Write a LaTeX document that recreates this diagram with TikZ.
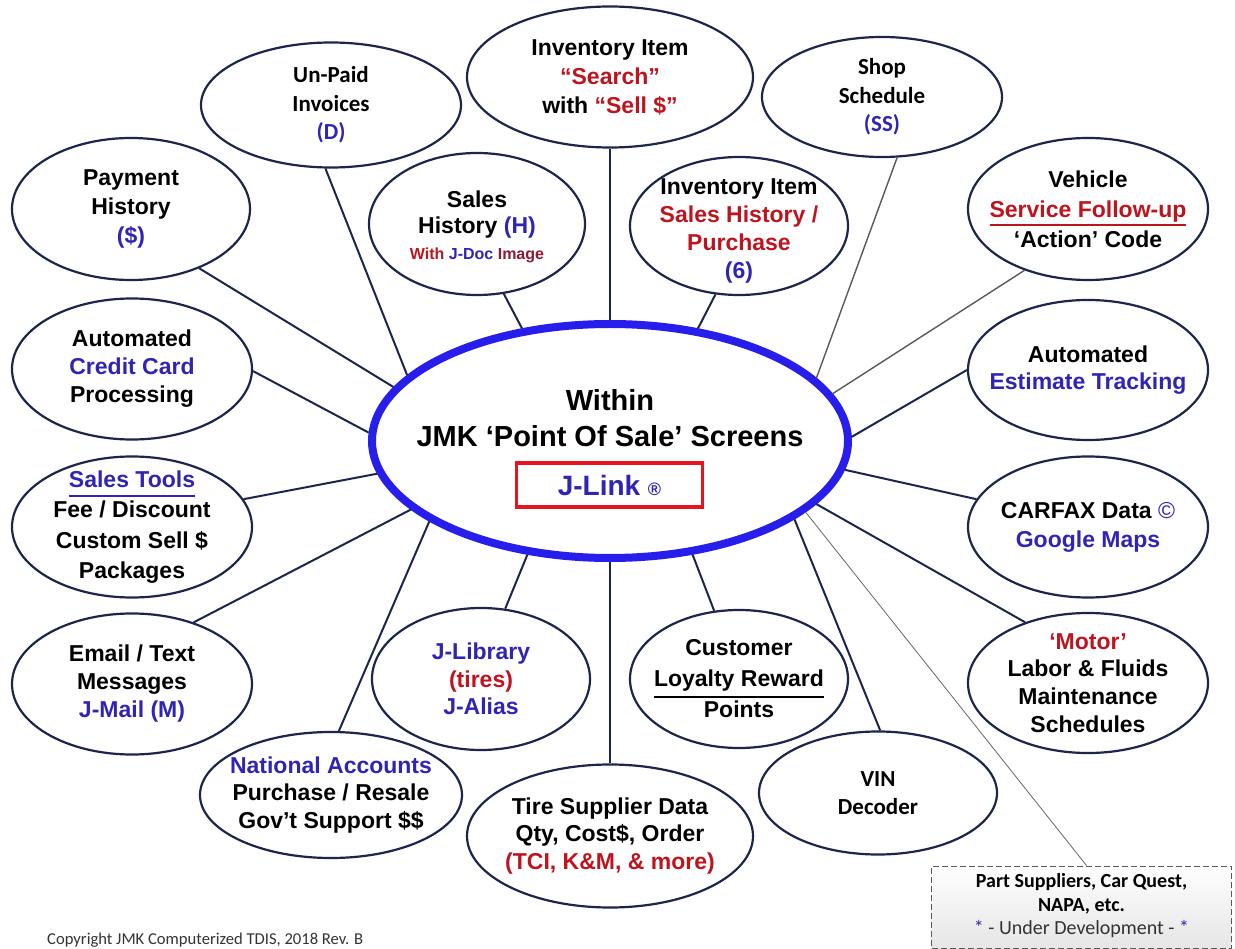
\documentclass[tikz,border=0pt]{standalone}
\usepackage{fontspec}
\setmainfont{Liberation Sans}
\newfontfamily\calib{Carlito}
\usetikzlibrary{shapes.geometric}
\definecolor{navy}{RGB}{28,38,76}
\definecolor{hubblue}{RGB}{40,30,235}
\definecolor{tblue}{RGB}{48,36,180}
\definecolor{tred}{RGB}{190,20,30}
\definecolor{tmaroon}{RGB}{140,25,50}
\definecolor{rboxred}{RGB}{230,20,30}
\newcommand\colB[1]{\textcolor{tblue}{#1}}
\newcommand\colR[1]{\textcolor{tred}{#1}}
\newcommand\ulrule[3]{\leavevmode\setbox0\hbox{#3}\rlap{\textcolor{#1}{\rule[-#2]{\wd0}{2pt}}}\box0}
\tikzset{
  bub/.style={ellipse, draw=navy, line width=2.2pt, inner sep=0pt, fill=white},
  txt/.style={align=center, inner sep=0pt, font=\bfseries\fontsize{23}{29}\selectfont},
  ctxt/.style={align=center, inner sep=0pt, font=\calib\bfseries\fontsize{23}{28.5}\selectfont},
  link/.style={draw=navy, line width=2pt},
  glink/.style={draw=black!65, line width=1.4pt},
  flink/.style={draw=black!60, line width=0.8pt}
}
\begin{document}
\begin{tikzpicture}[x=1pt,y=-1pt]
\fill[white] (0,0) rectangle (1235,949);
\useasboundingbox (0,0) rectangle (1235,949);

% hub
\node[ellipse, draw=hubblue, line width=8pt, minimum width=476pt, minimum height=234pt, inner sep=0pt] (hub) at (610,441) {};
\node[txt, font=\bfseries\fontsize{29}{36}\selectfont] (hubtxt) at (610,418) {Within\\JMK ‘Point Of Sale’ Screens};
\node[draw=rboxred, line width=3.5pt, minimum width=186pt, minimum height=44pt, inner sep=0pt, text=tblue, font=\bfseries\fontsize{28}{30}\selectfont] (jlink) at (609.5,485) {J-Link {\fontsize{18}{18}\selectfont ®}};

% bubbles
\node[bub, minimum width=238pt, minimum height=142pt] (pay) at (131,209) {};
\node[bub, minimum width=260pt, minimum height=125pt] (unpaid) at (331,105) {};
\node[bub, minimum width=286pt, minimum height=141pt] (search) at (610,77) {};
\node[bub, minimum width=216pt, minimum height=142pt] (sales) at (477,224) {};
\node[bub, minimum width=218pt, minimum height=138pt] (invsales) at (739,226) {};
\node[bub, minimum width=240pt, minimum height=120pt] (shop) at (882,97) {};
\node[bub, minimum width=240pt, minimum height=142pt] (vehicle) at (1088,209) {};
\node[bub, minimum width=240pt, minimum height=141pt] (credit) at (132,369) {};
\node[bub, minimum width=240pt, minimum height=141pt] (tools) at (132,527) {};
\node[bub, minimum width=240pt, minimum height=140pt] (estimate) at (1088,370) {};
\node[bub, minimum width=240pt, minimum height=141pt] (carfax) at (1088,527) {};
\node[bub, minimum width=240pt, minimum height=141pt] (email) at (132,684) {};
\node[bub, minimum width=262pt, minimum height=126pt] (national) at (331,795) {};
\node[bub, minimum width=218pt, minimum height=142pt] (library) at (481,679) {};
\node[bub, minimum width=218pt, minimum height=138pt] (loyalty) at (739,679) {};
\node[bub, minimum width=286pt, minimum height=143pt] (tire) at (610,836) {};
\node[bub, minimum width=238pt, minimum height=123pt] (vin) at (878,793) {};
\node[bub, minimum width=240pt, minimum height=140pt] (motor) at (1088,683) {};

% dashed box
\node[draw=black!65, dash pattern=on 6pt off 3pt, line width=1pt, top color=white, bottom color=black!10, minimum width=300pt, minimum height=82pt, inner sep=0pt] (parts) at (1081.5,907) {};

% connectors
\draw[link] (hub.166.8) -- (pay.-41.3);
\draw[link] (hub.162.7) -- (unpaid.-95.1);
\draw[link] (hub.128) -- (sales.-69.9);
\draw[link] (hub.90) -- (search.-90);
\draw[link] (hub.52.6) -- (invsales.-109.2);
\draw[glink] (hub.17.1) -- (shop.-76.6);
\draw[glink] (hub.12.8) -- (vehicle.-136.3);
\draw[link] (hub.1.9) -- (estimate.180);
\draw[link] (hub.-7.8) -- (carfax.166.2);
\draw[link] (hub.-17.5) -- (motor.136.8);
\draw[flink] (hub.-20.8) -- ([xshift=5pt]parts.north);
\draw[link] (hub.-23.7) -- (vin.88);
\draw[link] (hub.-54.5) -- (loyalty.110.6);
\draw[link] (hub.-90) -- (tire.90);
\draw[link] (hub.-126.2) -- (library.71.3);
\draw[link] (hub.-156.7) -- (national.83.7);
\draw[link] (hub.-161.1) -- (email.45.5);
\draw[link] (hub.-172.2) -- (tools.14.6);
\draw[link] (hub.178) -- (credit.-1.4);

% texts
\node[txt] (paytxt) at (pay) {Payment\\History\\\colB{(\$)}};
\node[ctxt] (unpaidtxt) at (unpaid) {Un-Paid\\Invoices\\\colB{(D)}};
\node[txt] (searchtxt) at (search) {Inventory Item\\\colR{“Search”}\\with \colR{“Sell \$”}};
\node[txt, font=\bfseries\fontsize{23}{26}\selectfont] (salestxt) at ([yshift=-3pt]sales.center) {Sales\\History \colB{(H)}\\{\fontsize{16}{18}\selectfont\colR{With} \colB{J-Doc} \textcolor{tmaroon}{Image}}};
\node[txt, font=\bfseries\fontsize{23}{28}\selectfont] (invsalestxt) at ([yshift=-5pt]invsales.center) {Inventory Item\\\colR{Sales History /}\\\colR{Purchase}\\\colB{(6)}};
\node[ctxt] (shoptxt) at (shop) {Shop\\Schedule\\\colB{(SS)}};
\node[txt, font=\bfseries\fontsize{23}{30}\selectfont] (vehicletxt) at (vehicle) {Vehicle\\\ulrule{tred}{9pt}{\colR{Service Follow-up}}\\‘Action’ Code};
\node[txt, font=\bfseries\fontsize{23}{28}\selectfont] (credittxt) at (credit) {Automated\\\colB{Credit Card}\\Processing};
\node[txt, font=\bfseries\fontsize{23}{30.5}\selectfont] (toolstxt) at (tools) {\ulrule{tblue}{10pt}{\colB{Sales Tools}}\\Fee / Discount\\Custom Sell \$\\Packages};
\node[txt, font=\bfseries\fontsize{23}{27}\selectfont] (estimatetxt) at (estimate) {Automated\\\colB{Estimate Tracking}};
\node[txt] (carfaxtxt) at (carfax) {CARFAX Data {\mdseries\colB{©}}\\\colB{Google Maps}};
\node[txt, font=\bfseries\fontsize{23}{28}\selectfont] (emailtxt) at (email) {Email / Text\\Messages\\\colB{J-Mail (M)}};
\node[txt, font=\bfseries\fontsize{23}{27.5}\selectfont] (nationaltxt) at (national) {\colB{National Accounts}\\Purchase / Resale\\Gov’t Support \$\$};
\node[txt, font=\bfseries\fontsize{23}{27.5}\selectfont] (librarytxt) at (library) {\colB{J-Library}\\\colR{(tires)}\\\colB{J-Alias}};
\node[txt, font=\bfseries\fontsize{23}{31}\selectfont] (loyaltytxt) at (loyalty) {Customer\\\ulrule{black}{11pt}{Loyalty Reward}\\Points};
\node[txt, font=\bfseries\fontsize{23}{27.5}\selectfont] (tiretxt) at (tire) {Tire Supplier Data\\Qty, Cost\$, Order\\\colR{(TCI, K\&M, \& more)}};
\node[ctxt] (vintxt) at (vin) {VIN\\Decoder};
\node[txt, font=\bfseries\fontsize{23}{27.7}\selectfont] (motortxt) at (motor) {\colR{‘Motor’}\\Labor \& Fluids\\Maintenance\\Schedules};
\node[align=center, inner sep=0pt, font=\calib\bfseries\fontsize{20}{23.5}\selectfont] (partstxt) at (1081.5,906) {Part Suppliers, Car Quest,\\NAPA, etc.\\{\mdseries\textcolor{black!80}{\colB{*} - Under Development - \colB{*}}}};
\node[anchor=base west, inner sep=0pt, font=\calib\fontsize{16.6}{19}\selectfont, text=black!80] (copy) at (47,944) {Copyright JMK Computerized TDIS, 2018 Rev. B};
\end{tikzpicture}
\end{document}
